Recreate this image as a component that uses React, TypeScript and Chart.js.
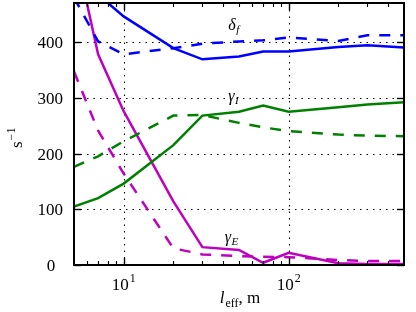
import React, { useEffect, useRef } from "react";
import { Chart, registerables } from "chart.js";

Chart.register(...registerables);

// ---- data ----
const X_VALUES = [5, 7, 10, 20, 30, 50, 70, 100, 200, 300, 500];
const DELTA_F_SOLID = [520, 485, 446, 389, 369, 374, 383, 383, 391, 394, 390];
const DELTA_F_DASHED = [480, 401, 378, 389, 397, 401, 403, 408, 402, 412, 412];
const GAMMA_I_SOLID = [105, 120, 146, 215, 268, 275, 286, 275, 283, 288, 292];
const GAMMA_I_DASHED = [176, 195, 222, 268, 269, 255, 247, 240, 234, 232, 231];
const GAMMA_E_SOLID = [575, 378, 276, 114, 32, 27, 4, 22, 3, 2, 2];
const GAMMA_E_DASHED = [347, 241, 164, 30, 19, 16, 15, 14, 9, 7, 7];

const Y_TICKS = [0, 100, 200, 300, 400];
const Y_TICK_LABELS = ["0", "100", "200", "300", "400"];
const X_MAJOR = [10, 100];
const X_MAJOR_EXPONENTS = ["1", "2"];
const X_MINOR = [6, 7, 8, 9, 20, 30, 40, 50, 60, 70, 80, 90, 200, 300, 400];

const CURVE_LABELS = [
  { main: "δ", sub: "f", x: 43, y: 421 },
  { main: "γ", sub: "I", x: 43, y: 295 },
  { main: "γ", sub: "E", x: 41, y: 41 },
];

const BLUE = "#0000ff";
const GREEN = "#008000";
const MAGENTA = "#bf00bf";
const DASH = [11, 10];

const SERIF = "'Liberation Serif'";

function makeData(arr: number[]) {
  return X_VALUES.map((x, i) => ({ x, y: arr[i] }));
}

function ds(arr: number[], color: string, dashed: boolean) {
  return {
    data: makeData(arr),
    borderColor: color,
    backgroundColor: color,
    borderWidth: 2.5,
    borderDash: dashed ? DASH : [],
    pointRadius: 0,
    tension: 0,
    fill: false,
    clip: 0,
  };
}

const decorPlugin = {
  id: "decor",
  beforeDatasetsDraw(chart: any) {
    const { ctx, chartArea: a, scales } = chart;
    const xs = scales.x;
    const ys = scales.y;
    ctx.save();
    ctx.strokeStyle = "#000";
    ctx.lineWidth = 1.1;
    ctx.setLineDash([1.5, 5]);
    for (const v of X_MAJOR) {
      const px = Math.round(xs.getPixelForValue(v)) + 0.5;
      ctx.beginPath();
      ctx.moveTo(px, a.bottom);
      ctx.lineTo(px, a.top);
      ctx.stroke();
    }
    for (const v of Y_TICKS) {
      if (v === 0) continue;
      const py = Math.round(ys.getPixelForValue(v)) + 0.5;
      ctx.beginPath();
      ctx.moveTo(a.left, py);
      ctx.lineTo(a.right, py);
      ctx.stroke();
    }
    ctx.restore();
  },
  afterDraw(chart: any) {
    const { ctx, chartArea: a, scales } = chart;
    const xs = scales.x;
    const ys = scales.y;
    ctx.save();
    ctx.setLineDash([]);
    ctx.strokeStyle = "#000";
    const tick = (x1: number, y1: number, x2: number, y2: number, w: number) => {
      ctx.lineWidth = w;
      ctx.beginPath();
      ctx.moveTo(x1, y1);
      ctx.lineTo(x2, y2);
      ctx.stroke();
    };
    for (const v of X_MAJOR) {
      const px = Math.round(xs.getPixelForValue(v)) + 0.5;
      tick(px, a.bottom, px, a.bottom - 7, 1.4);
      tick(px, a.top, px, a.top + 7, 1.4);
    }
    for (const v of X_MINOR) {
      const px = Math.round(xs.getPixelForValue(v)) + 0.5;
      tick(px, a.bottom, px, a.bottom - 4, 1.1);
      tick(px, a.top, px, a.top + 4, 1.1);
    }
    for (const v of Y_TICKS) {
      const py = Math.round(ys.getPixelForValue(v)) + 0.5;
      tick(a.left, py, a.left + 7, py, 1.4);
      tick(a.right, py, a.right - 7, py, 1.4);
    }
    ctx.lineWidth = 2;
    ctx.strokeRect(a.left, a.top, a.right - a.left, a.bottom - a.top);

    ctx.fillStyle = "#000";
    ctx.font = `17px ${SERIF}`;
    ctx.textBaseline = "alphabetic";
    Y_TICKS.forEach((v, i) => {
      const py = ys.getPixelForValue(v);
      const label = Y_TICK_LABELS[i];
      if (v === 0) {
        ctx.textAlign = "center";
        ctx.fillText(label, a.left - 23, py + 6);
      } else {
        ctx.textAlign = "right";
        ctx.fillText(label, a.left - 11, py + 6);
      }
    });
    ctx.textAlign = "left";
    X_MAJOR.forEach((v, i) => {
      const px = xs.getPixelForValue(v);
      ctx.font = `17px ${SERIF}`;
      const w1 = ctx.measureText("10").width;
      ctx.font = `12px ${SERIF}`;
      const w2 = ctx.measureText(X_MAJOR_EXPONENTS[i]).width;
      const start = px - (w1 + w2 + 1) / 2;
      ctx.font = `17px ${SERIF}`;
      ctx.fillText("10", start, a.bottom + 24.5);
      ctx.font = `12px ${SERIF}`;
      ctx.fillText(X_MAJOR_EXPONENTS[i], start + w1 + 1, a.bottom + 17);
    });
    {
      ctx.font = `italic 17px ${SERIF}`;
      const wl = ctx.measureText("l").width;
      ctx.font = `12px ${SERIF}`;
      const we = ctx.measureText("eff").width;
      ctx.font = `17px ${SERIF}`;
      const wm = ctx.measureText(", m").width;
      const total = wl + 1 + we + wm;
      const cx = (a.left + a.right) / 2 + 1;
      let x = cx - total / 2;
      const base = a.bottom + 38;
      ctx.font = `italic 17px ${SERIF}`;
      ctx.fillText("l", x, base);
      x += wl + 1;
      ctx.font = `12px ${SERIF}`;
      ctx.fillText("eff", x, base + 4);
      x += we;
      ctx.font = `17px ${SERIF}`;
      ctx.fillText(", m", x, base);
    }
    {
      ctx.save();
      ctx.translate(22, 148);
      ctx.rotate(-Math.PI / 2);
      ctx.font = `17px ${SERIF}`;
      const ws = ctx.measureText("s").width;
      ctx.fillText("s", 0, 0);
      ctx.font = `12px ${SERIF}`;
      ctx.fillText("−1", ws + 1, -7);
      ctx.restore();
    }
    for (const lab of CURVE_LABELS) {
      const px = xs.getPixelForValue(lab.x);
      const py = ys.getPixelForValue(lab.y);
      ctx.font = `italic 16px ${SERIF}`;
      const wm = ctx.measureText(lab.main).width;
      ctx.fillText(lab.main, px, py);
      ctx.font = `italic 11px ${SERIF}`;
      ctx.fillText(lab.sub, px + wm + 0.5, py + 3);
    }
    ctx.restore();
  },
};

export default function App() {
  const ref = useRef<HTMLCanvasElement | null>(null);
  useEffect(() => {
    document.body.style.margin = "0";
    const canvas = ref.current;
    if (!canvas) return;
    const chart = new Chart(canvas, {
      type: "line",
      data: {
        datasets: [
          ds(DELTA_F_SOLID, BLUE, false),
          ds(DELTA_F_DASHED, BLUE, true),
          ds(GAMMA_I_SOLID, GREEN, false),
          ds(GAMMA_I_DASHED, GREEN, true),
          ds(GAMMA_E_SOLID, MAGENTA, false),
          ds(GAMMA_E_DASHED, MAGENTA, true),
        ] as any,
      },
      options: {
        animation: false,
        responsive: false,
        devicePixelRatio: 1,
        layout: { padding: { left: 74, right: 12, top: 3, bottom: 47 } },
        scales: {
          x: { type: "logarithmic", min: 5, max: 500, display: false },
          y: { type: "linear", min: 0, max: 470, display: false },
        },
        plugins: {
          legend: { display: false },
          tooltip: { enabled: false },
        },
        events: [],
      },
      plugins: [decorPlugin],
    });
    return () => chart.destroy();
  }, []);
  return (
    <div style={{ position: "absolute", left: 0, top: 0, width: 416, height: 312, background: "#fff" }}>
      <canvas ref={ref} width={416} height={312} style={{ width: 416, height: 312, display: "block" }} />
    </div>
  );
}
